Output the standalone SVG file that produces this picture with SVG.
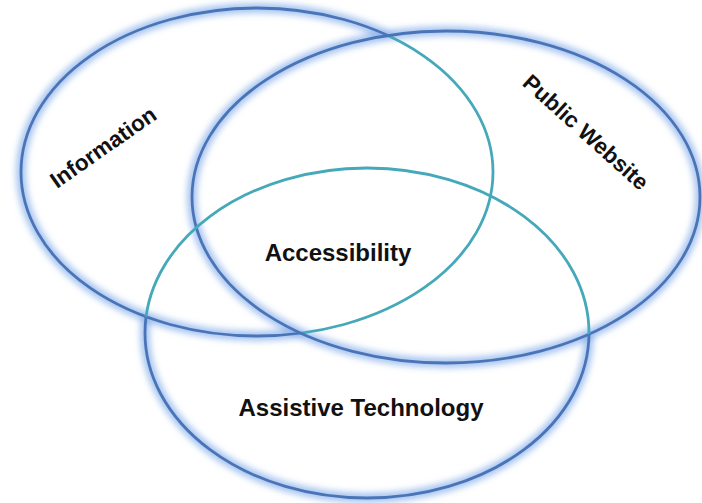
<svg xmlns="http://www.w3.org/2000/svg" width="702" height="503" viewBox="0 0 702 503">
  <style>
    .blue { fill: none; stroke: #4a74b8; stroke-width: 2.8; }
    .teal { fill: none; stroke: #45a9bb; stroke-width: 2.8; }
    .glow { fill: none; stroke: #6f9fe6; stroke-width: 10; opacity: 0.6; }
    .lbl { font-family: "Liberation Sans", Arial, sans-serif; font-weight: bold; fill: #111; text-anchor: middle; }
    .s23 { font-size: 22.5px; }
    .s24 { font-size: 24px; }
  </style>
  <defs>
    <filter id="blur" x="-10%" y="-10%" width="120%" height="120%">
      <feGaussianBlur stdDeviation="3.4"/>
    </filter>
    <clipPath id="inPW">
      <ellipse cx="446" cy="197" rx="254" ry="166"/>
    </clipPath>
    <mask id="outPW" maskUnits="userSpaceOnUse" x="0" y="0" width="702" height="503">
      <rect x="0" y="0" width="702" height="503" fill="#fff"/>
      <ellipse cx="446" cy="197" rx="254" ry="166" fill="#000"/>
    </mask>
    <clipPath id="inIorPW">
      <ellipse cx="446" cy="197" rx="254" ry="166"/>
      <ellipse cx="257" cy="172" rx="236" ry="164"/>
    </clipPath>
    <mask id="outIorPW" maskUnits="userSpaceOnUse" x="0" y="0" width="702" height="503">
      <rect x="0" y="0" width="702" height="503" fill="#fff"/>
      <ellipse cx="446" cy="197" rx="254" ry="166" fill="#000"/>
      <ellipse cx="257" cy="172" rx="236" ry="164" fill="#000"/>
    </mask>
  </defs>
  <rect x="0" y="0" width="702" height="503" fill="#fff"/>

  <g id="glows" filter="url(#blur)">
    <ellipse class="glow" cx="257" cy="172" rx="236" ry="164" mask="url(#outPW)"/>
    <ellipse class="glow" cx="446" cy="197" rx="254" ry="166"/>
    <ellipse class="glow" cx="367" cy="333" rx="222" ry="165" mask="url(#outIorPW)"/>
  </g>

  <g id="information">
    <ellipse class="blue" cx="257" cy="172" rx="236" ry="164" mask="url(#outPW)"/>
    <ellipse class="teal" cx="257" cy="172" rx="236" ry="164" clip-path="url(#inPW)"/>
    <text class="lbl s23" transform="translate(103,147) rotate(-35)" x="0" y="8">Information</text>
  </g>

  <g id="public-website">
    <ellipse class="blue" cx="446" cy="197" rx="254" ry="166"/>
    <text class="lbl s23" transform="translate(586,132) rotate(42)" x="0" y="8">Public Website</text>
  </g>

  <g id="assistive-technology">
    <ellipse class="blue" cx="367" cy="333" rx="222" ry="165" mask="url(#outIorPW)"/>
    <ellipse class="teal" cx="367" cy="333" rx="222" ry="165" clip-path="url(#inIorPW)"/>
    <text class="lbl s24" x="361" y="416">Assistive Technology</text>
  </g>

  <g id="accessibility">
    <text class="lbl s24" x="338" y="261">Accessibility</text>
  </g>

  <g id="connectors"></g>
</svg>
